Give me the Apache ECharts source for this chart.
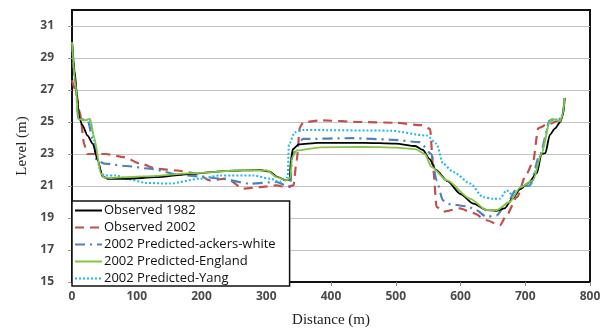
<!DOCTYPE html>
<html>
<head>
<meta charset="utf-8">
<script src="https://cdn.jsdelivr.net/npm/echarts@6/dist/echarts.min.js"></script>
<style>html,body{margin:0;padding:0;background:#fff}#c{width:609px;height:329px}</style>
</head>
<body>
<div id="c"></div>
<script>
var seriesNames = ['Observed 1982', 'Observed 2002', '2002 Predicted-ackers-white', '2002 Predicted-England', '2002 Predicted-Yang'];

var dist1982 = [0, 4, 8, 11, 16, 24, 32, 40, 47, 55, 85, 130, 180, 240, 290, 305, 318, 330, 336, 338, 341, 350, 380, 450, 500, 530, 542, 552, 562, 580, 600, 620, 640, 655, 668, 680, 692, 705, 718, 725, 731, 738, 746, 754, 758, 761];
var level1982 = [30.0, 28.2, 26.5, 25.3, 24.8, 24.15, 23.65, 22.6, 21.6, 21.45, 21.45, 21.55, 21.75, 21.95, 22.0, 21.9, 21.55, 21.35, 21.4, 22.6, 23.3, 23.6, 23.7, 23.7, 23.65, 23.5, 23.25, 22.7, 22.0, 21.3, 20.5, 19.9, 19.5, 19.45, 19.6, 20.2, 20.8, 21.2, 21.8, 23.0, 23.05, 24.2, 24.6, 25.0, 25.4, 26.5];

var dist2002 = [0, 6, 12, 19, 23, 52, 81, 105, 131, 162, 193, 213, 239, 265, 290, 316, 329, 342, 347, 352, 357, 383, 450, 500, 540, 553, 558, 563, 573, 599, 620, 640, 661, 671, 687, 702, 712, 720, 723, 733, 754, 757];
var level2002 = [27.6, 26.95, 25.6, 23.6, 23.0, 23.0, 22.8, 22.4, 22.08, 21.97, 21.77, 21.35, 21.46, 20.83, 20.93, 21.04, 20.93, 21.04, 22.6, 24.67, 24.98, 25.1, 25.0, 24.95, 24.8, 24.57, 22.0, 19.7, 19.4, 19.6, 19.3, 18.86, 18.55, 19.17, 20.3, 21.77, 22.5, 24.6, 24.67, 24.84, 25.1, 25.3];

var distAckers = [0, 5, 10, 24, 34, 38, 50, 84, 120, 167, 198, 229, 275, 316, 331, 337, 340, 357, 434, 491, 537, 555, 563, 573, 584, 610, 625, 640, 656, 671, 687, 707, 723, 738, 754, 758, 761];
var levelAckers = [30.0, 27.5, 25.2, 25.1, 23.64, 22.6, 22.4, 22.25, 22.08, 21.7, 21.6, 21.46, 21.15, 21.25, 21.04, 20.93, 23.0, 23.94, 23.99, 23.9, 23.74, 23.0, 21.35, 20.1, 19.86, 19.73, 19.48, 19.07, 19.17, 19.9, 20.83, 21.04, 23.0, 25.1, 25.2, 25.5, 26.5];

var distEngland = [0, 5, 10, 19, 28, 34, 45, 50, 60, 110, 187, 265, 301, 316, 331, 337, 340, 347, 383, 450, 500, 530, 545, 555, 579, 615, 640, 656, 676, 692, 712, 725, 738, 741, 754, 758, 761];
var levelEngland = [30.0, 27.5, 25.2, 25.1, 25.2, 24.05, 21.77, 21.52, 21.5, 21.6, 21.8, 22.0, 21.97, 21.56, 21.35, 21.5, 22.8, 23.22, 23.42, 23.45, 23.4, 23.3, 23.0, 22.2, 21.35, 20.2, 19.5, 19.5, 20.0, 20.9, 21.35, 23.0, 25.0, 25.2, 25.05, 25.5, 26.5];

var distYang = [0, 5, 10, 27, 45, 50, 68, 84, 115, 151, 198, 229, 280, 306, 321, 333, 335, 344, 357, 491, 548, 563, 573, 589, 615, 635, 651, 661, 671, 682, 697, 707, 725, 738, 754, 758, 761];
var levelYang = [30.0, 27.5, 25.2, 25.1, 21.87, 21.66, 21.66, 21.46, 21.19, 21.15, 21.46, 21.66, 21.66, 21.46, 21.25, 21.55, 23.6, 24.36, 24.5, 24.46, 24.15, 23.64, 22.4, 21.87, 21.15, 20.3, 20.2, 20.2, 20.73, 20.4, 21.04, 21.0, 23.0, 25.1, 25.2, 25.5, 26.5];

var xTicks = [0, 100, 200, 300, 400, 500, 600, 700, 800];
var yTicks = [15, 17, 19, 21, 23, 25, 27, 29, 31];

function pairs(xs, ys) { return xs.map(function (x, i) { return [x, ys[i]]; }); }

var chart = echarts.init(document.getElementById('c'), null, { renderer: 'canvas' });
var labelFont = { fontFamily: 'Open Sans', fontWeight: 'bold', fontSize: 12, color: '#4a4a4a' };
function lineSeries(name, xs, ys, z, lineStyle) {
  return { name: name, type: 'line', data: pairs(xs, ys), symbol: 'none', smooth: 0.25, smoothMonotone: 'x', z: z,
    lineStyle: lineStyle, itemStyle: { color: lineStyle.color, opacity: 0 } };
}
chart.setOption({
  animation: false,
  backgroundColor: '#fff',
  grid: { left: 72, right: 19, top: 10, bottom: 47, containLabel: false, outerBoundsMode: 'none',
    show: true, borderColor: '#111', borderWidth: 2, backgroundColor: 'transparent' },
  xAxis: {
    type: 'value', min: xTicks[0], max: xTicks[xTicks.length - 1], interval: 100,
    name: 'Distance (m)', nameLocation: 'middle', nameGap: 31,
    nameTextStyle: { fontFamily: 'Liberation Serif', fontSize: 15, color: '#222' },
    axisLine: { show: true, lineStyle: { color: '#111', width: 2 } },
    axisTick: { show: true, length: 4, lineStyle: { color: '#888' } },
    axisLabel: Object.assign({ margin: 9 }, labelFont),
    splitLine: { show: false }
  },
  yAxis: {
    type: 'value', min: yTicks[0], max: 32, interval: 2,
    name: 'Level (m)', nameLocation: 'middle', nameGap: 40, nameRotate: 90,
    nameTextStyle: { fontFamily: 'Liberation Serif', fontSize: 15, color: '#222' },
    axisLine: { show: true, lineStyle: { color: '#111', width: 2 } },
    axisTick: { show: true, length: 4, lineStyle: { color: '#999' } },
    axisLabel: Object.assign({ margin: 18, showMaxLabel: false }, labelFont),
    splitLine: { show: true, showMinLine: false, showMaxLine: false, lineStyle: { color: '#c4c4c4', width: 1 } }
  },
  legend: {
    orient: 'vertical', left: 72, top: 201,
    backgroundColor: '#fff', borderColor: '#111', borderWidth: 1.5,
    padding: [3, 14, 1, 2], itemGap: 4, itemWidth: 27, itemHeight: 12,
    itemStyle: { opacity: 0 },
    textStyle: { fontFamily: 'Open Sans', fontSize: 13, color: '#111', padding: [0, 0, 0, -3] },
    data: seriesNames
  },
  series: [
    lineSeries(seriesNames[0], dist1982, level1982, 5, { color: '#000', width: 1.8 }),
    lineSeries(seriesNames[1], dist2002, level2002, 3, { color: '#c0504d', width: 2.2, type: [9, 6] }),
    lineSeries(seriesNames[2], distAckers, levelAckers, 4, { color: '#4f81bd', width: 2.2, type: [10, 5, 2, 5] }),
    lineSeries(seriesNames[3], distEngland, levelEngland, 6, { color: '#84c441', width: 1.8 }),
    lineSeries(seriesNames[4], distYang, levelYang, 4, { color: '#1fb7ef', width: 2, type: [2, 2] })
  ]
});
</script>
</body>
</html>
